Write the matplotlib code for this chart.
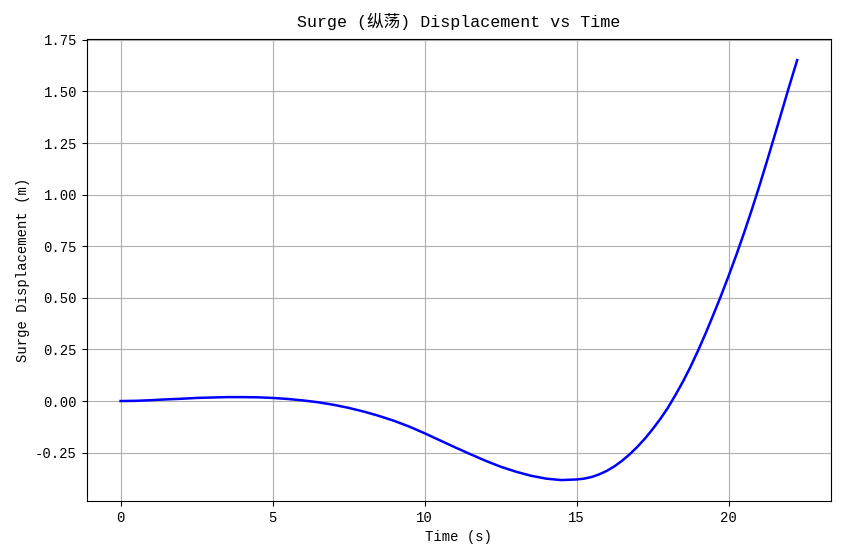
import numpy as np
import matplotlib.pyplot as plt

plt.rcParams['font.family'] = ['Liberation Mono', 'Noto Sans CJK SC', 'DejaVu Sans']
plt.rcParams['axes.unicode_minus'] = False

# values
time = [0, 0.5, 1, 1.5, 2, 2.5, 3, 3.5, 4, 4.5, 5, 5.5, 6, 6.5, 7, 7.5, 8, 8.5,
        9, 9.5, 10, 10.5, 11, 11.5, 12, 12.5, 13, 13.5, 14, 14.5, 15, 15.25,
        15.5, 15.75, 16, 16.25, 16.5, 16.75, 17, 17.25, 17.5, 17.75, 18,
        18.25, 18.5, 18.75, 19, 19.25, 19.5, 19.75, 20, 20.25, 20.5, 20.75,
        21, 21.25, 21.5, 21.75, 22, 22.26]
surge = [0.0, 0.001, 0.004, 0.008, 0.011, 0.015, 0.017, 0.019, 0.019, 0.018,
         0.015, 0.010, 0.003, -0.006, -0.018, -0.033, -0.051, -0.072,
         -0.096, -0.124, -0.156, -0.190, -0.224, -0.257, -0.289, -0.318,
         -0.342, -0.362, -0.376, -0.383, -0.380, -0.376,
         -0.368, -0.355, -0.338, -0.316, -0.289, -0.258, -0.222, -0.182,
         -0.137, -0.088, -0.034,
         0.028, 0.094, 0.166, 0.245, 0.329, 0.418, 0.509, 0.605, 0.705,
         0.810, 0.920, 1.035, 1.155, 1.278, 1.402, 1.527, 1.652]

fig = plt.figure(figsize=(8.42, 5.58), dpi=100)
ax = plt.gca()
ax.plot(time, surge, color='blue', linewidth=1.8)
ax.set_title("Surge (纵荡) Displacement vs Time", fontsize=12, pad=9)
ax.set_xlabel("Time (s)", fontsize=10)
ax.set_ylabel("Surge Displacement (m)", fontsize=10)
ax.grid(True)
fig.subplots_adjust(left=0.103, right=0.987, top=0.93, bottom=0.102)
fig.savefig('out.png', dpi=100)
